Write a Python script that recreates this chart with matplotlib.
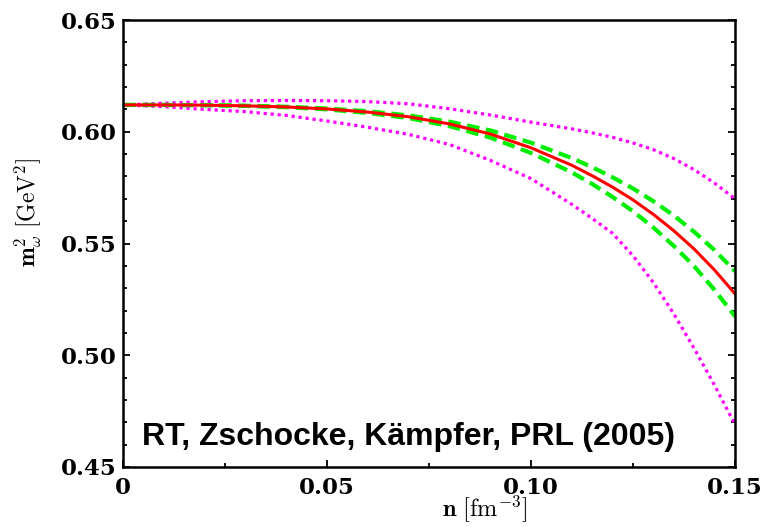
import matplotlib
matplotlib.use("Agg")
import matplotlib.pyplot as plt
from matplotlib.ticker import MultipleLocator, FixedLocator, FixedFormatter

plt.rcParams['mathtext.fontset'] = 'cm'

# density n [fm^-3]
n = [0.0, 0.01, 0.02, 0.03, 0.04, 0.05, 0.06, 0.07, 0.08, 0.09,
     0.10, 0.11, 0.115, 0.12, 0.125, 0.13, 0.135, 0.14, 0.145, 0.15]

# central curve (red, solid)
m2_central = [0.612, 0.612, 0.6119, 0.6116, 0.6111, 0.6102, 0.6088, 0.6067,
              0.6035, 0.5990, 0.5928, 0.5850, 0.5803, 0.5752, 0.5695, 0.5630,
              0.5557, 0.5475, 0.5381, 0.5275]
# green dashed band
m2_green_up = [0.612, 0.612, 0.6119, 0.6116, 0.6112, 0.6104, 0.6092, 0.6073,
               0.6045, 0.6006, 0.5951, 0.5882, 0.5841, 0.5796, 0.5746, 0.5689,
               0.5625, 0.5552, 0.5470, 0.5376]
m2_green_lo = [0.612, 0.612, 0.6119, 0.6116, 0.6110, 0.6100, 0.6084, 0.6061,
               0.6025, 0.5974, 0.5905, 0.5818, 0.5766, 0.5708, 0.5644, 0.5571,
               0.5489, 0.5398, 0.5292, 0.5174]
# magenta dotted band
m2_mag_up = [0.612, 0.6128, 0.6135, 0.6139, 0.6140, 0.6139, 0.6135, 0.6125,
             0.6103, 0.6075, 0.6043, 0.6013, 0.5995, 0.5975, 0.5950, 0.5920,
             0.5880, 0.5830, 0.5770, 0.5700]
m2_mag_lo = [0.612, 0.6112, 0.6100, 0.6090, 0.6073, 0.6048, 0.6020, 0.5988,
             0.5943, 0.5872, 0.5790, 0.5675, 0.5612, 0.5545, 0.5445, 0.5325,
             0.5185, 0.5030, 0.4865, 0.4690]

xticks = [0.0, 0.05, 0.10, 0.15]
xticklabels = ['0', '0.05', '0.10', '0.15']
yticks = [0.45, 0.50, 0.55, 0.60, 0.65]
yticklabels = ['0.45', '0.50', '0.55', '0.60', '0.65']

fig = plt.figure(figsize=(7.84, 5.27), dpi=100)
ax = fig.add_axes([0.1573, 0.1139, 0.7802, 0.8481])

ax.plot(n, m2_mag_up, color='#ff00ff', lw=2.3, ls=(0, (1.0, 1.2)), dash_capstyle='butt')
ax.plot(n, m2_mag_lo, color='#ff00ff', lw=2.3, ls=(0, (1.0, 1.2)), dash_capstyle='butt')
ax.plot(n, m2_green_up, color='#00ee00', lw=3.0, ls=(0, (3.0, 1.6)))
ax.plot(n, m2_green_lo, color='#00ee00', lw=3.0, ls=(0, (3.0, 1.6)))
ax.plot(n, m2_central, color='#ff0000', lw=2.2)

ax.set_xlim(0, 0.15)
ax.set_ylim(0.45, 0.65)

ax.xaxis.set_major_locator(FixedLocator(xticks))
ax.xaxis.set_major_formatter(FixedFormatter(xticklabels))
ax.xaxis.set_minor_locator(MultipleLocator(0.025))
ax.yaxis.set_major_locator(FixedLocator(yticks))
ax.yaxis.set_major_formatter(FixedFormatter(yticklabels))
ax.yaxis.set_minor_locator(MultipleLocator(0.01))

ax.tick_params(which='both', direction='in', top=False, right=True, width=1.3)
ax.tick_params(which='major', length=5, labelsize=16.5)
ax.tick_params(axis='x', which='major', pad=7)
ax.tick_params(axis='y', which='major', pad=5)
ax.tick_params(which='minor', length=3)
for lab in ax.get_xticklabels() + ax.get_yticklabels():
    lab.set_family('DejaVu Serif')
    lab.set_fontweight('bold')
for sp in ax.spines.values():
    sp.set_linewidth(1.8)

ax.set_xlabel(r'$\mathbf{n}\ [\mathrm{fm}^{-3}]$', fontsize=17.5)
ax.xaxis.set_label_coords(0.59, -0.061)
ax.set_ylabel(r'$\mathbf{m}^2_\omega\ [\mathrm{GeV}^2]$', fontsize=17)
ax.yaxis.set_label_coords(-0.13, 0.57)

ax.text(0.03, 0.068, 'RT, Zschocke, Kämpfer, PRL (2005)', transform=ax.transAxes,
        fontsize=23, fontweight='bold', family=['Liberation Sans', 'DejaVu Sans'],
        ha='left', va='center')

fig.savefig('out.png', dpi=100)
